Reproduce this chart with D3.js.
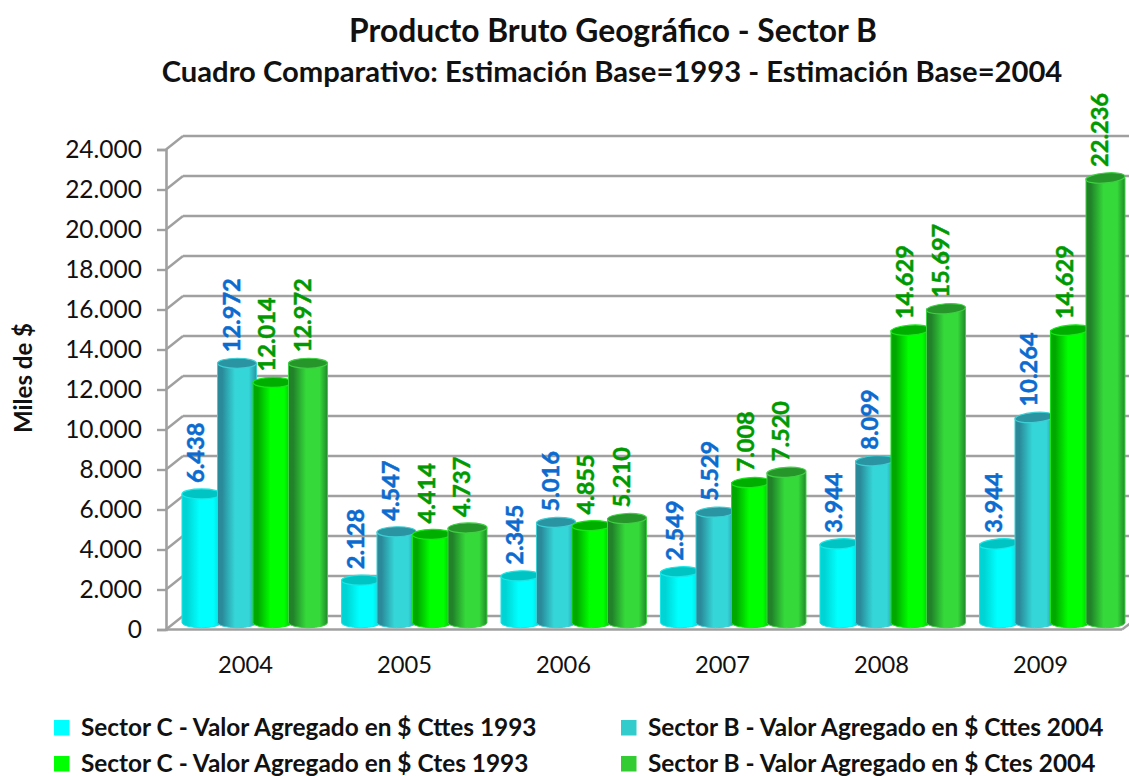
<!DOCTYPE html>
<html><head><meta charset="utf-8">
<script src="https://cdn.jsdelivr.net/npm/d3@7/dist/d3.min.js"></script>
<style>html,body{margin:0;background:#fff}svg{display:block}text{font-family:Lato,"Open Sans",sans-serif}</style>
</head><body><div id="c"></div>
<script>
const years=["2004","2005","2006","2007","2008","2009"];
const sectorC1993Cttes=[6438,2128,2345,2549,3944,3944];
const sectorB2004Cttes=[12972,4547,5016,5529,8099,10264];
const sectorC1993Ctes=[12014,4414,4855,7008,14629,14629];
const sectorB2004Ctes=[12972,4737,5210,7520,15697,22236];
const seriesNames=["Sector C - Valor Agregado en $ Cttes 1993","Sector B - Valor Agregado en $ Cttes 2004","Sector C - Valor Agregado en $ Ctes 1993","Sector B - Valor Agregado en $ Ctes 2004"];
const seriesValues=[sectorC1993Cttes,sectorB2004Cttes,sectorC1993Ctes,sectorB2004Ctes];
const tickValues=d3.range(0,24001,2000);

const looks=[
 {sw:"#00ffff",edgeL:"#00d4d4",mid:"#00ffff",edgeR:"#00d8d8",top:"#00c4c4",rim:"#19e6e6",lab:"#0b6bcf"},
 {sw:"#33cccc",edgeL:"#2a8a9a",mid:"#35d6d8",edgeR:"#2b95a3",top:"#2a94a3",rim:"#3ccfd4",lab:"#0b6bcf"},
 {sw:"#00ff00",edgeL:"#00a800",mid:"#00ff00",edgeR:"#00b800",top:"#00ae00",rim:"#19e619",lab:"#009a00"},
 {sw:"#33cc33",edgeL:"#21822a",mid:"#35d93a",edgeR:"#22892a",top:"#26952a",rim:"#3fd044",lab:"#009a00"}
];
const W=1129,H=776,axisGray="#a0a0a0";
const svg=d3.select("#c").append("svg").attr("width",W).attr("height",H);
const fmt=d3.formatLocale({decimal:",",thousands:".",grouping:[3],currency:["$",""]}).format(",d");

const yFront=d3.scaleLinear().domain([0,24000]).range([629.5,149.5]);
const yBack=d3.scaleLinear().domain([0,24000]).range([616,136]);
const yMid=d3.scaleLinear().domain([0,24000]).range([622.7,142.7]);
const xGroup=d3.scaleBand().domain(years).range([167,1124]);
const xBar=d3.scaleBand().domain(d3.range(4)).range([xGroup.bandwidth()*0.105,xGroup.bandwidth()*0.105+142]);
const xFront=d3.scaleBand().domain(years).range([166,1120]);

const defs=svg.append("defs");
looks.forEach((l,i)=>{
  const g=defs.append("linearGradient").attr("id","bar"+i);
  [[0,l.edgeL],[.12,l.edgeL],[.45,l.mid],[.8,l.mid],[1,l.edgeR]].forEach(s=>g.append("stop").attr("offset",s[0]).attr("stop-color",s[1]));
});

// walls
const grid=svg.append("g");
const wallX0=183,wallX1=1129,frontX=166,floorX1=1122;
grid.selectAll("line.g").data(tickValues).join("line").attr("class","g")
  .attr("x1",wallX0).attr("x2",wallX1).attr("y1",d=>yBack(d)).attr("y2",d=>yBack(d))
  .attr("stroke",axisGray).attr("stroke-width",2.6);
grid.selectAll("line.d").data(tickValues).join("line").attr("class","d")
  .attr("x1",frontX).attr("x2",wallX0).attr("y1",d=>yFront(d)).attr("y2",d=>yBack(d))
  .attr("stroke",axisGray).attr("stroke-width",2.4);
grid.append("line").attr("x1",frontX).attr("x2",floorX1).attr("y1",yFront(0)).attr("y2",yFront(0)).attr("stroke",axisGray).attr("stroke-width",2.6);
grid.append("line").attr("x1",floorX1).attr("x2",1130).attr("y1",yFront(0)).attr("y2",yFront(300)).attr("stroke",axisGray).attr("stroke-width",2.4);

// y axis
const ay=svg.append("g").attr("transform",`translate(${frontX},0)`)
  .call(d3.axisLeft(yFront).tickValues(tickValues).tickFormat(fmt).tickSize(9).tickPadding(15));
ay.select(".domain").attr("stroke",axisGray).attr("stroke-width",2.6);
ay.selectAll(".tick line").attr("stroke",axisGray).attr("stroke-width",2.4);
ay.selectAll("text").attr("font-size",24.5).attr("fill","#111").style("font-family","Lato");

// x axis
const ax=svg.append("g").attr("transform","translate(0,630)")
  .call(d3.axisBottom(xFront).tickSize(0).tickPadding(26));
ax.select(".domain").remove();
ax.selectAll("text").attr("font-size",23.7).attr("fill","#111");

// bars
const rx=19.5,ry=5;
seriesValues.forEach((vals,si)=>{
  const l=looks[si];
  const g=svg.append("g");
  years.forEach((yr,j)=>{
    const cx=xGroup(yr)+xBar(si)+xBar.bandwidth()/2, yt=yMid(vals[j]), yb=yMid(0);
    g.append("path")
     .attr("d",`M${cx-rx},${yt}L${cx-rx},${yb}A${rx},${ry} 0 0 0 ${cx+rx},${yb}L${cx+rx},${yt}Z`)
     .attr("fill",`url(#bar${si})`).attr("stroke",l.rim).attr("stroke-width",1);
    g.append("ellipse").attr("cx",cx).attr("cy",yt).attr("rx",rx).attr("ry",ry)
     .attr("transform",`rotate(${-(cx-200)/900*5} ${cx} ${yt})`)
     .attr("fill",l.top).attr("stroke",l.rim).attr("stroke-width",1.2);
  });
});
// data labels
seriesValues.forEach((vals,si)=>{
  years.forEach((yr,j)=>{
    const cx=xGroup(yr)+xBar(si)+xBar.bandwidth()/2-5.5, yt=yMid(vals[j])-11;
    svg.append("text").attr("transform",`translate(${cx},${yt}) rotate(-90)`)
      .attr("dy","0.35em").attr("font-size",23.6).attr("font-weight",700)
      .attr("stroke",looks[si].lab).attr("stroke-width",0.5)
      .attr("fill",looks[si].lab).text(fmt(vals[j]));
  });
});

// titles
svg.append("text").attr("x",613).attr("y",42).attr("text-anchor","middle").attr("font-size",31.8).attr("font-weight",700).attr("fill","#111").text("Producto Bruto Geográfico - Sector B");
svg.append("text").attr("x",612).attr("y",82).attr("text-anchor","middle").attr("font-size",29.2).attr("font-weight",700).attr("fill","#111").text("Cuadro Comparativo: Estimación Base=1993 - Estimación Base=2004");
svg.append("text").attr("transform","translate(24,378) rotate(-90)").attr("text-anchor","middle").attr("dy","0.35em").attr("font-size",24).attr("font-weight",700).attr("fill","#111").text("Miles de $");

// legend
const legX=[54,621],legY=[720,756];
seriesNames.forEach((n,i)=>{
  const lx=legX[i%2],ly=legY[i<2?0:1];
  svg.append("rect").attr("x",lx).attr("y",ly).attr("width",15.5).attr("height",15.5).attr("fill",looks[i].sw);
  svg.append("text").attr("x",lx+27).attr("y",ly+7.5).attr("dy","0.35em").attr("font-size",24.4).attr("font-weight",700).attr("fill","#111").text(n);
});
</script></body></html>
